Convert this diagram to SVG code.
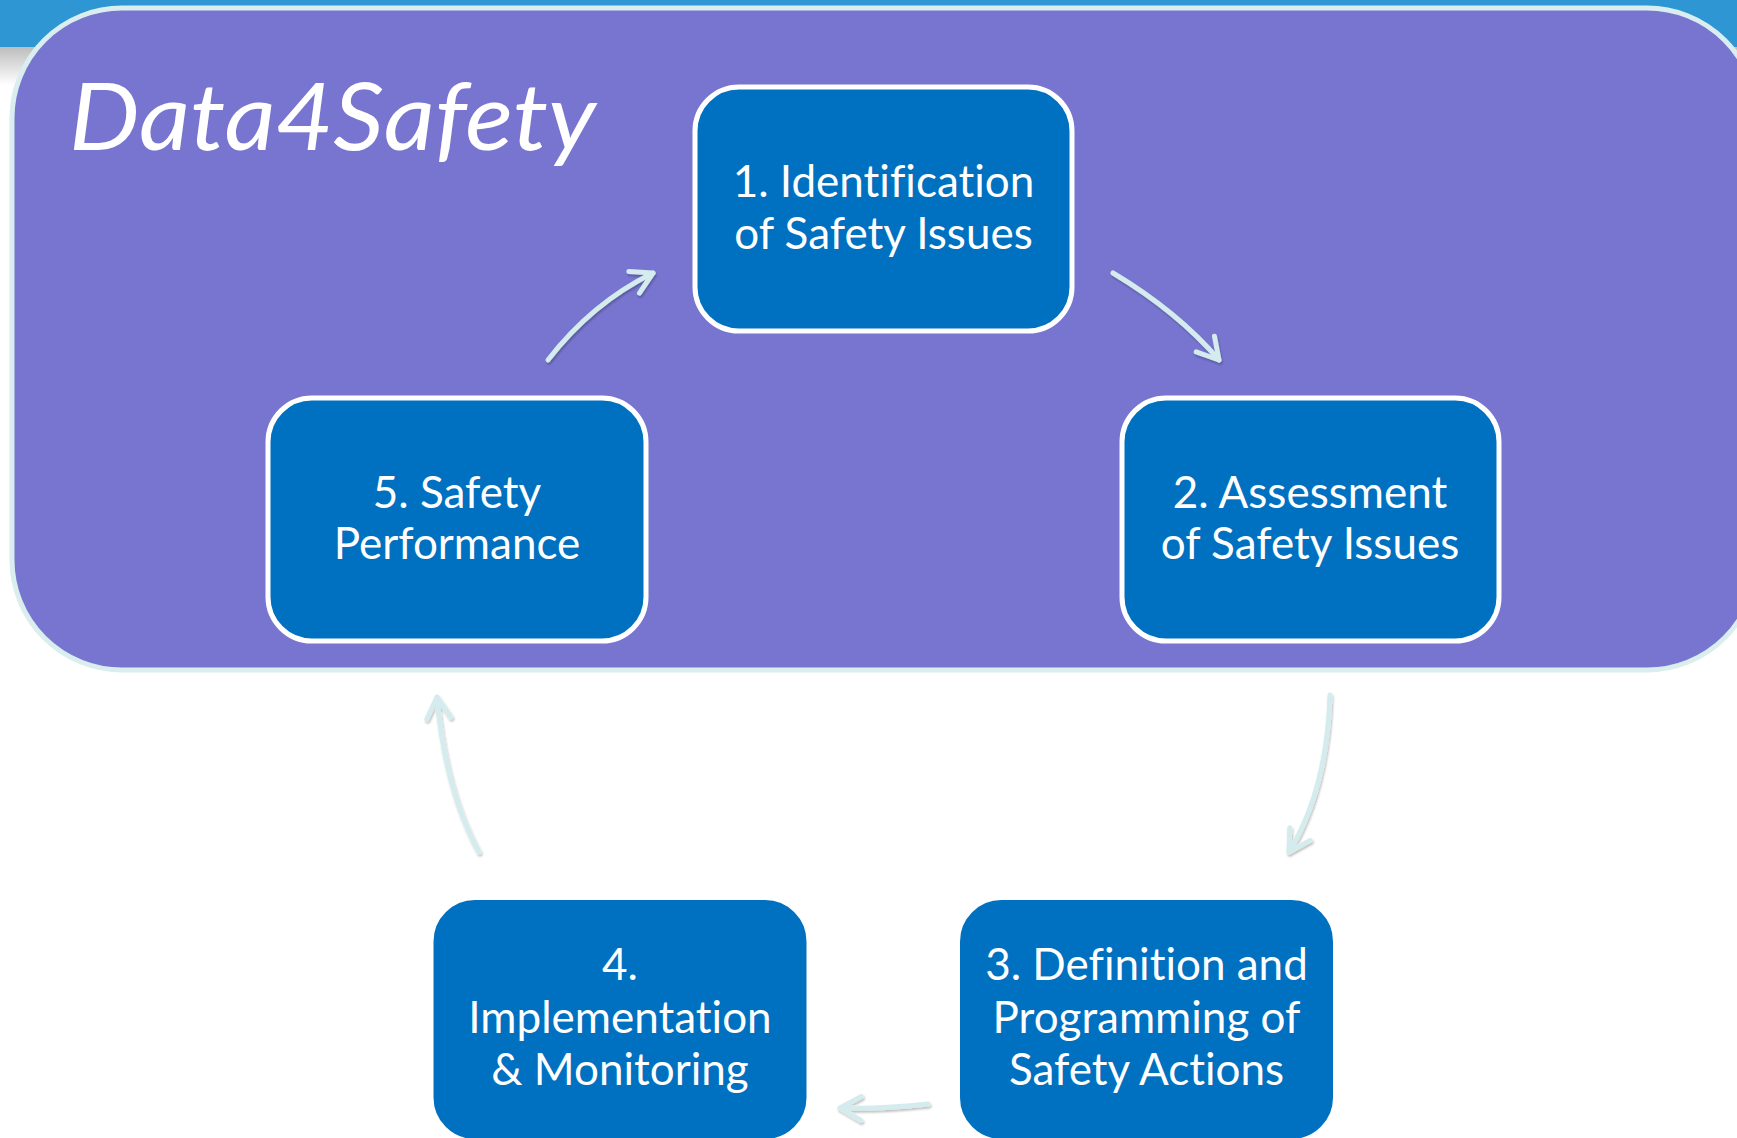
<svg xmlns="http://www.w3.org/2000/svg" width="1737" height="1138" viewBox="0 0 1737 1138">
  <defs>
    <style>
      .box { fill: #0070C0; stroke: #FFFFFF; stroke-width: 5; }
      .lbl { font-family: Lato, "Liberation Sans", sans-serif; font-size: 44px; fill: #FFFFFF; text-anchor: middle; font-variant-ligatures: none; font-feature-settings: "liga" 0, "dlig" 0; }
      .conn { fill: none; stroke: #D5ECEE; stroke-width: 5; stroke-linecap: round; marker-end: url(#head); }
    </style>
    <linearGradient id="shade" x1="0" y1="0" x2="0" y2="1">
      <stop offset="0" stop-color="#BDBDBD"/>
      <stop offset="1" stop-color="#FFFFFF"/>
    </linearGradient>
    <filter id="sh" filterUnits="userSpaceOnUse" x="0" y="0" width="1737" height="1138">
      <feDropShadow dx="1" dy="2" stdDeviation="1" flood-color="#000000" flood-opacity="0.25"/>
    </filter>
    <marker id="head" viewBox="-26 -16 30 32" refX="0" refY="0" markerWidth="30" markerHeight="32" markerUnits="userSpaceOnUse" orient="auto" overflow="visible">
      <path d="M -21 -12 L 0 0 L -21 12" fill="none" stroke="#D5ECEE" stroke-width="5" stroke-linecap="round" stroke-linejoin="round"/>
    </marker>
  </defs>

  <rect x="0" y="0" width="1737" height="1138" fill="#FFFFFF"/>
  <rect x="0" y="0" width="1737" height="47" fill="#2E96D3"/>
  <rect x="0" y="47" width="1737" height="38" fill="url(#shade)"/>

  <g id="frame">
    <rect x="12" y="8" width="1745" height="662" rx="110" ry="110" fill="#7775CF" stroke="#DAEEF0" stroke-width="5"/>
    <text x="69" y="150" font-family="Lato, 'Liberation Sans', sans-serif" font-style="italic" font-size="94" fill="#FFFFFF" textLength="527" lengthAdjust="spacingAndGlyphs">Data4Safety</text>
  </g>

  <g id="connectors" filter="url(#sh)">
    <path class="conn" d="M548 360 Q 592 303 653 273"/>
    <path class="conn" d="M1113 273 Q 1178 312 1219 360"/>
    <path class="conn" d="M1330 695 Q 1327 790 1289 852"/>
    <path class="conn" d="M928 1104 Q 885 1109 840 1108"/>
    <path class="conn" d="M479 852 Q 445 790 437 697"/>
  </g>

  <g id="node1">
    <rect class="box" x="695" y="87" width="377" height="244" rx="44" ry="44"/>
    <text class="lbl" x="883.5" y="197">1. Identification</text>
    <text class="lbl" x="883.5" y="249">of Safety Issues</text>
  </g>

  <g id="node2">
    <rect class="box" x="1122" y="398" width="377" height="243" rx="44" ry="44"/>
    <text class="lbl" x="1310" y="508">2. Assessment</text>
    <text class="lbl" x="1310" y="559">of Safety Issues</text>
  </g>

  <g id="node3">
    <rect class="box" x="957.5" y="897.5" width="378" height="244" rx="44" ry="44"/>
    <text class="lbl" x="1146.5" y="980">3. Definition and</text>
    <text class="lbl" x="1146.5" y="1033">Programming of</text>
    <text class="lbl" x="1146.5" y="1085">Safety Actions</text>
  </g>

  <g id="node4">
    <rect class="box" x="431" y="897.5" width="378" height="244" rx="44" ry="44"/>
    <text class="lbl" x="620" y="980">4.</text>
    <text class="lbl" x="620" y="1033">Implementation</text>
    <text class="lbl" x="620" y="1085">&amp; Monitoring</text>
  </g>

  <g id="node5">
    <rect class="box" x="268" y="398" width="378" height="243" rx="44" ry="44"/>
    <text class="lbl" x="457" y="508">5. Safety</text>
    <text class="lbl" x="457" y="559">Performance</text>
  </g>
</svg>
